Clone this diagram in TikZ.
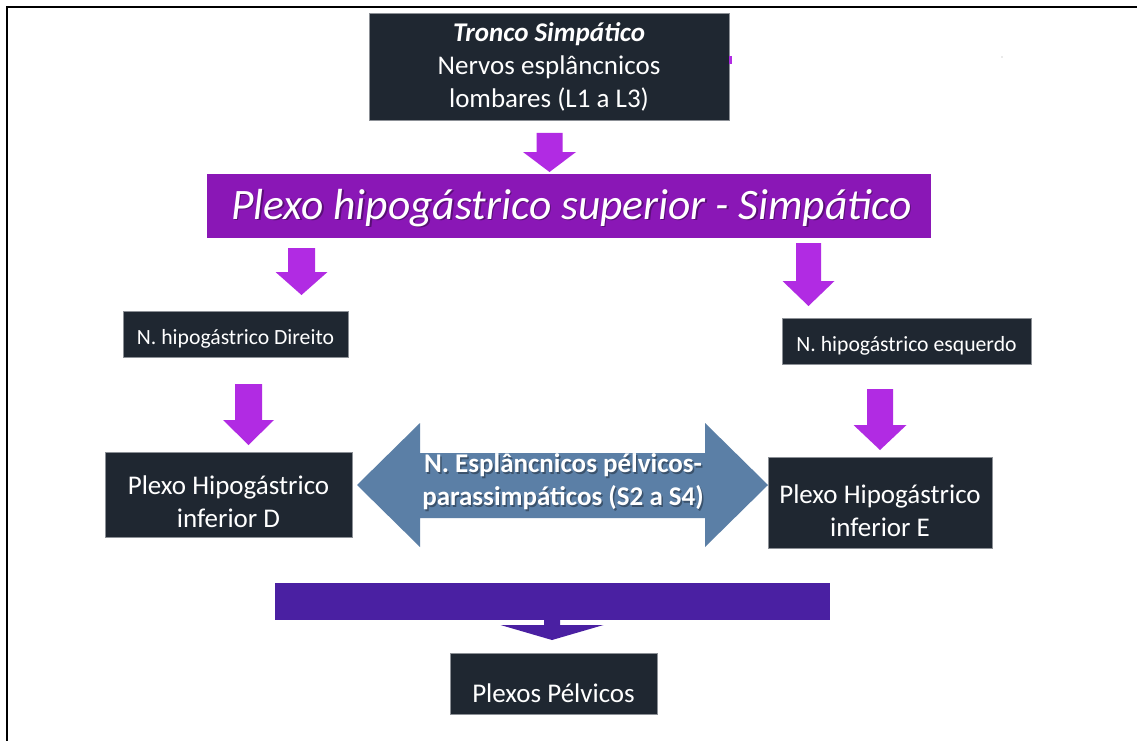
\documentclass[tikz,border=0pt]{standalone}
\usepackage{fontspec}
\setmainfont{Carlito}
\definecolor{boxdark}{HTML}{1F2731}
\definecolor{boxedge}{HTML}{8C9096}
\definecolor{banner}{HTML}{8A17B6}
\definecolor{flow}{HTML}{B12BE3}
\definecolor{indigo}{HTML}{4A20A2}
\definecolor{steel}{HTML}{5B7FA6}
\tikzset{
  darkbox/.style={fill=boxdark, draw=boxedge, line width=0.6pt, inner sep=0pt},
  lbl/.style={text=white, align=center, inner sep=0pt},
  txtbig/.style={font=\fontsize{27}{33}\selectfont},
  txtsmall/.style={font=\fontsize{21.7}{24}\selectfont},
  shade/.style={text=black, opacity=0.35},
}
% vertical block arrow: centre x, top y, head start y, tip y, shaft half width, head half width
\newcommand\blockdown[7][flow]{%
  \fill[#1] (#2-#6,#3) -- (#2+#6,#3) -- (#2+#6,#4) -- (#2+#7,#4) -- (#2,#5)
    -- (#2-#7,#4) -- (#2-#6,#4) -- cycle;}
\begin{document}
\begin{tikzpicture}[x=1pt,y=-1pt]
\useasboundingbox (0,0) rectangle (1137,741);
\fill[white] (0,0) rectangle (1137,741);
% frame
\draw[line width=2pt] (7,741) -- (7,7) -- (1137,7);

% top box
\node[darkbox, minimum width=360pt, minimum height=107pt] (top) at (549,66.5) {};
\node[lbl, txtbig] (toptxt) at ([yshift=-0.5pt]top.center)
  {\textbf{\textit{Tronco Simpático}}\\Nervos esplâncnicos\\lombares (L1 a L3)};
\fill[flow] (729,56) rectangle (732,64);
\fill[gray!70] (1002,57) circle (0.6pt);

% superior hypogastric plexus banner
\node[fill=banner, minimum width=724pt, minimum height=64pt, inner sep=0pt] (banner) at (569,206) {};
\node[shade, font=\fontsize{43.5}{48}\selectfont\itshape] at ([xshift=4pt,yshift=-3.5pt]banner.center)
  {Plexo hipogástrico superior - Simpático};
\node[text=white, font=\fontsize{43.5}{48}\selectfont\itshape] (bannertxt) at ([xshift=2.5pt,yshift=-2pt]banner.center)
  {Plexo hipogástrico superior - Simpático};

% hypogastric nerves
\node[darkbox, minimum width=225pt, minimum height=46pt] (dir) at (235.5,334) {};
\node[lbl, txtsmall] (dirtxt) at ([yshift=-5pt]dir.center) {N. hipogástrico Direito};
\node[darkbox, minimum width=249pt, minimum height=46pt] (esq) at (906.5,341) {};
\node[lbl, txtsmall] (esqtxt) at ([yshift=-5pt]esq.center) {N. hipogástrico esquerdo};

% inferior hypogastric plexuses
\node[darkbox, minimum width=247pt, minimum height=85pt] (infD) at (228.5,494.5) {};
\node[lbl, txtbig] (infDtxt) at ([yshift=-7.5pt]infD.center) {Plexo Hipogástrico\\inferior D};
\node[darkbox, minimum width=224pt, minimum height=91pt] (infE) at (880,502.5) {};
\node[lbl, txtbig] (infEtxt) at ([yshift=-8.5pt]infE.center) {Plexo Hipogástrico\\inferior E};

% collecting bar and pelvic plexuses
\node[fill=indigo, minimum width=555pt, minimum height=37pt, inner sep=0pt] (bar) at (552.5,601.5) {};
\node[darkbox, minimum width=207pt, minimum height=61pt] (pelv) at (553.5,683.5) {};
\node[lbl, txtbig] (pelvtxt) at ([yshift=-10pt]pelv.center) {Plexos Pélvicos};

% downward flow arrows
\blockdown{549.5}{133}{152}{172}{13}{26.5}
\blockdown{301.5}{248}{272}{295}{13.5}{26}
\blockdown{248.5}{384}{420}{445}{13.5}{25.5}
\blockdown{808.5}{243}{281}{306}{12.5}{26}
\blockdown{880}{389}{425}{450}{13}{26.5}
\blockdown[indigo]{552}{619}{625}{640}{8}{51.5}

% two-way arrow between the inferior plexuses
\fill[steel] (357,485) -- (420,423) -- (420,453) -- (705,453) -- (705,423) -- (768,485)
  -- (705,547) -- (705,518) -- (420,518) -- (420,547) -- cycle;
\node[shade, font=\bfseries\fontsize{27}{33}\selectfont, align=center] at (564.5,483.5)
  {N. Esplâncnicos pélvicos-\\parassimpáticos (S2 a S4)};
\node[text=white, font=\bfseries\fontsize{27}{33}\selectfont, align=center] (spl) at (563,482)
  {N. Esplâncnicos pélvicos-\\parassimpáticos (S2 a S4)};
\end{tikzpicture}
\end{document}
